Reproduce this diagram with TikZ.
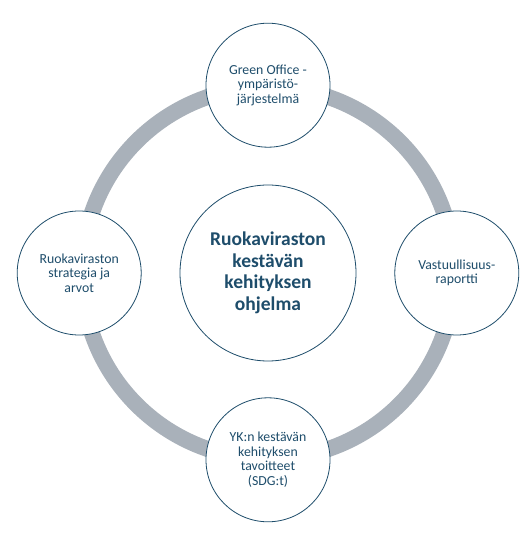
\documentclass[tikz,border=0pt]{standalone}
\usepackage{fontspec}
\setmainfont{Carlito}
\usetikzlibrary{positioning}

\definecolor{inkblue}{HTML}{1E4D6B}
\definecolor{ringgray}{HTML}{A9B1BA}

\begin{document}
\begin{tikzpicture}[
    x=1pt, y=1pt,
    every node/.style={font=\fontsize{13.8}{14.6}\selectfont, text=inkblue},
    hub/.style={draw=inkblue, fill=white, circle, line width=0.8pt, minimum size=176pt, inner sep=0pt, align=center,
        font=\fontsize{19.5}{21.5}\selectfont\bfseries},
    part/.style={draw=inkblue, fill=white, circle, line width=0.8pt, minimum size=124pt, inner sep=0pt, align=center},
    ring/.style={draw=ringgray, line width=16pt}
]
\useasboundingbox (-268,-264) rectangle (260,273);

% Keskus
\node[hub] (core) at (0,0)
    {Ruokaviraston\\kestävän\\kehityksen\\ohjelma};

% Kehä
\draw[ring] (core.center) circle (186);

% Ylhäällä
\node[part, above=37pt of core] (office)
    {Green Office -\\ympäristö-\\järjestelmä};

% Oikealla
\node[part, right=38pt of core] (report)
    {Vastuullisuus-\\raportti};

% Alhaalla
\node[part, below=36pt of core] (sdg)
    {YK:n kestävän\\kehityksen\\tavoitteet\\(SDG:t)};

% Vasemmalla
\node[part, left=38pt of core] (strategy)
    {Ruokaviraston\\strategia ja\\arvot};

\end{tikzpicture}
\end{document}
